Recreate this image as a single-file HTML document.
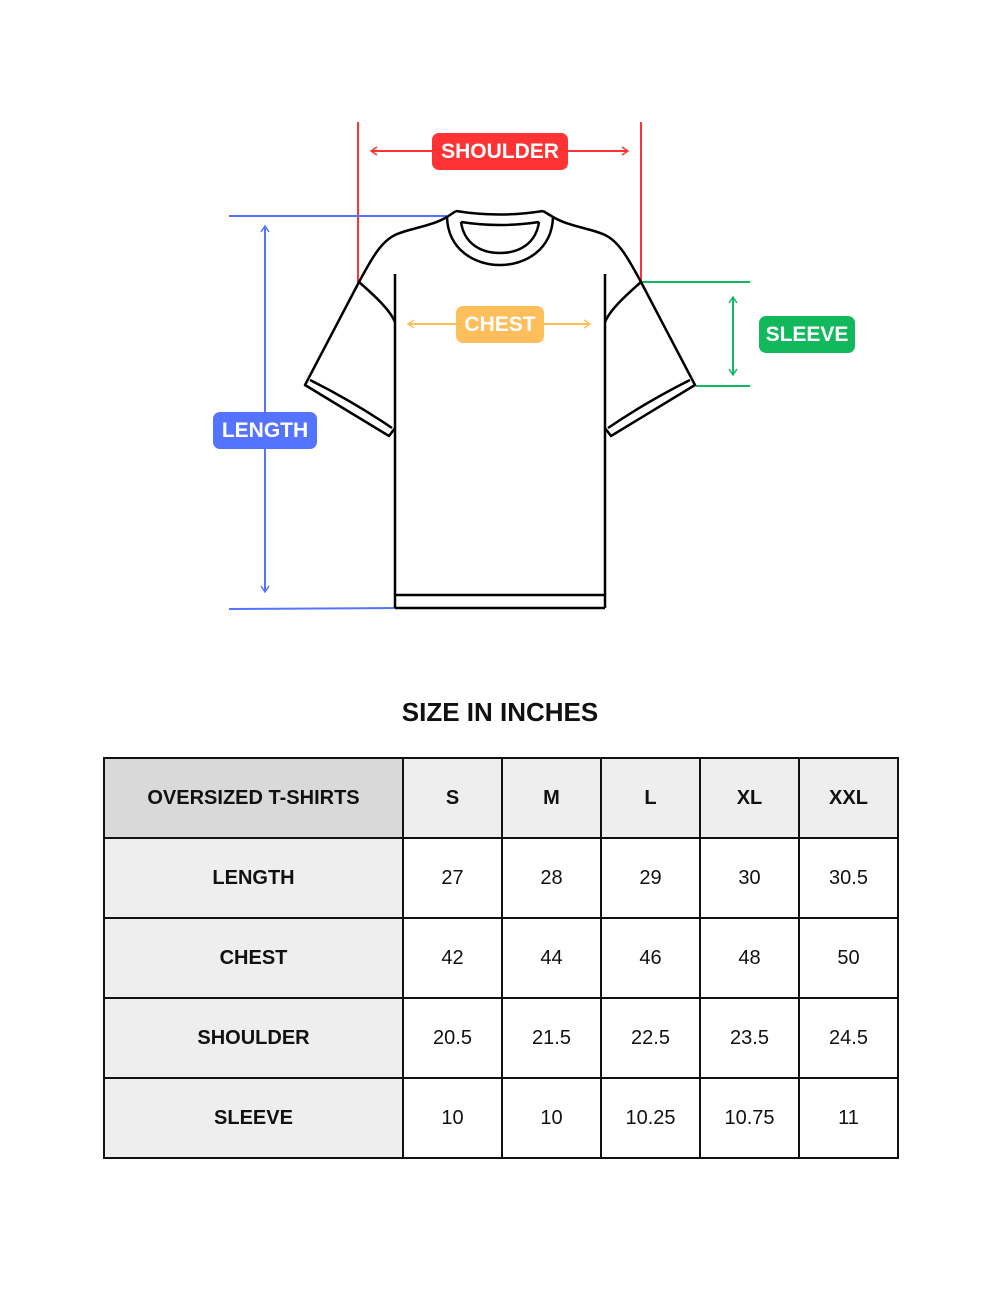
<!DOCTYPE html>
<html><head><meta charset="utf-8"><style>
body{margin:0;background:#fff;}
.wrap{position:relative;width:1000px;height:1294px;overflow:hidden;font-family:"Liberation Sans",sans-serif;}
.tag{position:absolute;color:#fff;font-weight:bold;font-size:21px;border-radius:7px;text-align:center;line-height:37px;height:37px;}
table{position:absolute;left:103px;top:757px;border-collapse:collapse;}
td{border:2px solid #111;text-align:center;font-size:20px;color:#111;height:78px;padding:0;}
td.h{background:#eee;font-weight:bold;}
td.f{background:#eee;font-weight:bold;width:297px;}
td.c{width:97px;}
</style></head><body><div class="wrap">
<svg width="1000" height="700" style="position:absolute;left:0;top:0">
<defs>
<marker id="a" markerWidth="10" markerHeight="10" refX="8" refY="5" orient="auto-start-reverse" markerUnits="userSpaceOnUse"><path d="M2,1 L8,5 L2,9" fill="none" stroke="context-stroke" stroke-width="1.5"/></marker>
</defs>
<g stroke="#ff3333" stroke-width="2" fill="none">
<line x1="358" y1="122" x2="358" y2="283"/>
<line x1="641" y1="122" x2="641" y2="283"/>
<line x1="371" y1="151" x2="628" y2="151" marker-start="url(#a)" marker-end="url(#a)"/>
</g>
<g stroke="#5474ff" stroke-width="2" fill="none">
<line x1="229" y1="216" x2="447" y2="216"/>
<line x1="229" y1="609" x2="396" y2="608"/>
<line x1="265" y1="226" x2="265" y2="592" marker-start="url(#a)" marker-end="url(#a)"/>
</g>
<g stroke="#11b95c" stroke-width="2" fill="none">
<line x1="641" y1="282" x2="750" y2="282"/>
<line x1="696" y1="386" x2="750" y2="386"/>
<line x1="733" y1="297" x2="733" y2="375" marker-start="url(#a)" marker-end="url(#a)"/>
</g>
<line x1="408" y1="324" x2="590" y2="324" stroke="#ffbe5c" stroke-width="2" marker-start="url(#a)" marker-end="url(#a)"/>
<g stroke="#000" stroke-width="2.5" fill="none" stroke-linejoin="round">
<path d="M456,211 Q500,218 543,211"/>
<path d="M461,222 Q500,228 539,222"/>
<path d="M447,217 C448,250 475,265 500,265 C525,265 552,250 553,217"/>
<path d="M461,222 C464,243 480,253 500,253 C520,253 536,243 539,222"/>
<path d="M456,211 L447,217 C430,227 410,228 395,235 C380,242 370,262 359,282 L305,385 L389,436 L395,428"/>
<path d="M543,211 L553,217 C570,227 590,228 605,235 C620,242 630,262 641,282 L695,385 L611,436 L605,428"/>
<path d="M359,282 C375,296 390,310 395,322"/>
<path d="M641,282 C625,296 610,310 605,322"/>
<path d="M310,380 C340,395 370,413 392,428"/>
<path d="M690,380 C660,395 630,413 608,428"/>
<line x1="395" y1="274" x2="395" y2="608"/>
<line x1="605" y1="274" x2="605" y2="608"/>
<line x1="395" y1="608" x2="605" y2="608"/>
<line x1="395" y1="595" x2="605" y2="595"/>
</g>
</svg>
<div class="tag" style="left:432px;top:133px;width:136px;background:#ff3333">SHOULDER</div>
<div class="tag" style="left:456px;top:306px;width:88px;background:#ffbe5c">CHEST</div>
<div class="tag" style="left:759px;top:316px;width:96px;background:#11b95c">SLEEVE</div>
<div class="tag" style="left:213px;top:412px;width:104px;background:#5474ff">LENGTH</div>
<div style="position:absolute;left:0;width:1000px;top:697px;text-align:center;font-weight:bold;font-size:26px;color:#111">SIZE IN INCHES</div>
<table>
<tr><td class="f" style="background:#d9d9d9">OVERSIZED T-SHIRTS</td><td class="h c">S</td><td class="h c">M</td><td class="h c">L</td><td class="h c">XL</td><td class="h c">XXL</td></tr>
<tr><td class="f">LENGTH</td><td>27</td><td>28</td><td>29</td><td>30</td><td>30.5</td></tr>
<tr><td class="f">CHEST</td><td>42</td><td>44</td><td>46</td><td>48</td><td>50</td></tr>
<tr><td class="f">SHOULDER</td><td>20.5</td><td>21.5</td><td>22.5</td><td>23.5</td><td>24.5</td></tr>
<tr><td class="f">SLEEVE</td><td>10</td><td>10</td><td>10.25</td><td>10.75</td><td>11</td></tr>
</table>
</div></body></html>
